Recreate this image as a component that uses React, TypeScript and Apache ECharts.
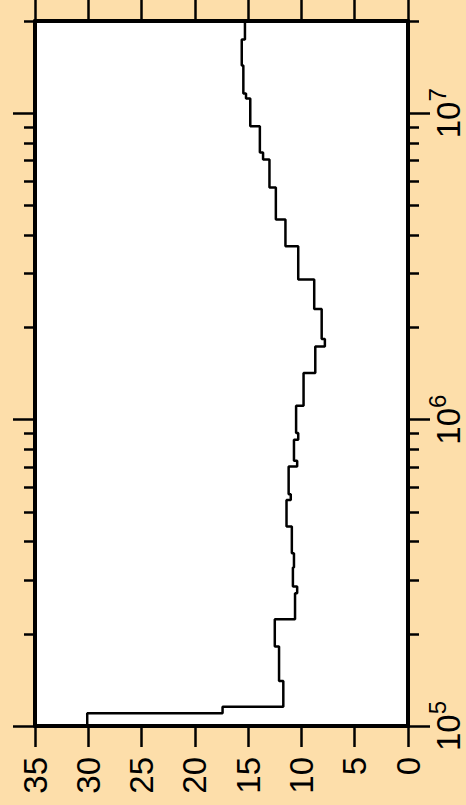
import React, { useEffect, useRef } from "react";
import * as echarts from "echarts";

// Frequency bin edges (Hz) along the log axis, bottom to top
const FREQ_EDGES = [
  1.0e5, 1.1e5, 1.156e5, 1.403e5, 1.816e5, 2.231e5, 2.713e5, 2.851e5, 3.289e5,
  3.665e5, 4.477e5, 5.47e5, 5.71e5, 7.03e5, 7.34e5, 8.6e5, 9.04e5, 1.11e6,
  1.419e6, 1.733e6, 1.833e6, 2.296e6, 2.864e6, 3.68e6, 4.5e6, 5.72e6, 7.06e6,
  7.45e6, 9.07e6, 1.117e7, 1.159e7, 1.432e7, 1.741e7, 2.0e7,
];
// Value in each bin
const LEVELS = [
  30.1, 17.4, 11.7, 12.1, 12.5, 10.6, 10.4, 10.8, 10.7, 10.9, 11.4, 11.0, 11.2,
  10.4, 10.7, 10.3, 10.5, 9.8, 8.7, 7.8, 8.1, 8.8, 10.3, 11.5, 12.4, 13.0, 13.6,
  13.9, 14.8, 15.2, 15.45, 15.6, 15.3,
];
const MAJOR_FREQ = [1e5, 1e6, 1e7];
const MINOR_FREQ = [
  2e5, 3e5, 4e5, 5e5, 6e5, 7e5, 8e5, 9e5, 2e6, 3e6, 4e6, 5e6, 6e6, 7e6, 8e6,
  9e6, 2e7,
];
const VALUE_MIN = 0;
const VALUE_MAX = 35;
const VALUE_STEP = 5;

const BG = "#FDDEAA";
const FONT = "Liberation Sans";

export default function App() {
  const ref = useRef<HTMLDivElement>(null);

  useEffect(() => {
    document.body.style.margin = "0";
    document.body.style.background = BG;
    if (!ref.current) return;
    const chart = echarts.init(ref.current, null, { renderer: "svg" });

    const stepData: number[][] = [];
    LEVELS.forEach((v, i) => {
      stepData.push([v, FREQ_EDGES[i]]);
      stepData.push([v, FREQ_EDGES[i + 1]]);
    });

    const tickStyle = { color: "#000", width: 2.5 };
    const logBase = {
      type: "log" as const,
      logBase: 10,
      min: 1e5,
      max: 2e7,
      splitLine: { show: false },
    };
    const valueBase = {
      type: "value" as const,
      min: VALUE_MIN,
      max: VALUE_MAX,
      interval: VALUE_STEP,
      inverse: true,
      splitLine: { show: false },
    };
    const frameLine = { show: true, onZero: false, lineStyle: { color: "#000", width: 4 } };
    const noLine = { show: false, onZero: false };

    chart.setOption({
      animation: false,
      backgroundColor: BG,
      grid: {
        left: 35,
        right: 58,
        top: 21,
        bottom: 79,
        show: true,
        backgroundColor: "#fff",
        borderWidth: 0,
        containLabel: false,
        outerBoundsMode: "none",
      },
      xAxis: [
        {
          ...valueBase,
          position: "bottom",
          axisLine: frameLine,
          axisTick: { show: true, inside: false, length: 21, lineStyle: tickStyle },
          axisLabel: {
            show: true,
            rotate: 90,
            margin: 31,
            color: "#000",
            fontFamily: FONT,
            fontSize: 33,
          },
        },
        {
          ...valueBase,
          position: "top",
          axisLine: frameLine,
          axisTick: { show: true, inside: false, length: 21, lineStyle: tickStyle },
          axisLabel: { show: false },
        },
      ],
      yAxis: [
        {
          ...logBase,
          position: "left",
          axisLine: frameLine,
          axisTick: { show: true, customValues: MAJOR_FREQ, length: 22, lineStyle: tickStyle },
          axisLabel: { show: false },
        },
        {
          ...logBase,
          position: "left",
          axisLine: noLine,
          axisTick: { show: true, customValues: MINOR_FREQ, length: 11, lineStyle: tickStyle },
          axisLabel: { show: false },
        },
        {
          ...logBase,
          position: "right",
          axisLine: frameLine,
          axisTick: { show: true, customValues: MAJOR_FREQ, length: 22, lineStyle: tickStyle },
          axisLabel: {
            show: true,
            customValues: MAJOR_FREQ,
            rotate: 90,
            margin: 17,
            color: "#000",
            fontFamily: FONT,
            formatter: (v: number) => `{b|10}{s|${Math.round(Math.log10(v))}}`,
            rich: {
              b: { fontSize: 33, fontFamily: FONT, color: "#000", lineHeight: 40, verticalAlign: "bottom" },
              s: { fontSize: 24, fontFamily: FONT, color: "#000", lineHeight: 24, verticalAlign: "top" },
            },
          },
        },
        {
          ...logBase,
          position: "right",
          axisLine: noLine,
          axisTick: { show: true, customValues: MINOR_FREQ, length: 11, lineStyle: tickStyle },
          axisLabel: { show: false },
        },
      ],
      series: [
        {
          type: "line",
          xAxisIndex: 0,
          yAxisIndex: 0,
          data: stepData,
          showSymbol: false,
          symbol: "none",
          lineStyle: { color: "#000", width: 2.5 },
          z: 1,
        },
      ],
    });

    return () => chart.dispose();
  }, []);

  return (
    <div
      ref={ref}
      style={{ width: 466, height: 805, background: BG }}
    />
  );
}
